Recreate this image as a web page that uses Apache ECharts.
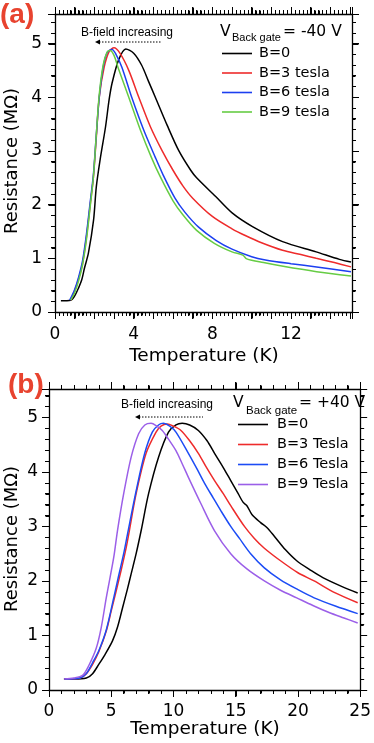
<!DOCTYPE html>
<html>
<head>
<meta charset="utf-8">
<script src="https://cdn.jsdelivr.net/npm/echarts@6/dist/echarts.min.js"></script>
<style>
html, body { margin: 0; padding: 0; background: #fff; }
#chart { width: 374px; height: 743px; }
</style>
</head>
<body>
<div id="chart"></div>
<script>
// panel (a): V back gate = -40 V   [temperature K, resistance MOhm]
let a_b0 = [[0.3,0.21],[0.8,0.22],[1.0,0.3],[1.2,0.45],[1.36,0.6],[1.5,0.82],[1.7,1.1],[1.96,1.71],[2.1,2.33],[2.3,2.85],[2.57,3.45],[2.75,3.95],[2.9,4.26],[3.24,4.7],[3.6,4.9],[4.0,4.82],[4.4,4.6],[4.75,4.3],[5.1,4.0],[5.7,3.48],[6.3,3.0],[6.9,2.64],[7.2,2.5],[8.17,2.15],[9.02,1.84],[10.04,1.59],[11.57,1.31],[13.28,1.12],[14.46,0.98],[15.05,0.93]];
let a_b3 = [[0.8,0.22],[1.0,0.4],[1.2,0.62],[1.4,0.9],[1.6,1.4],[1.8,2.03],[1.95,2.5],[2.1,3.25],[2.25,4.0],[2.5,4.56],[2.75,4.85],[3.0,4.92],[3.3,4.82],[3.75,4.5],[4.26,4.0],[4.85,3.45],[5.45,3.0],[6.0,2.64],[6.5,2.35],[7.0,2.12],[8.0,1.78],[9.0,1.55],[9.7,1.42],[10.5,1.29],[11.57,1.15],[12.5,1.07],[13.28,1.0],[14.2,0.92],[15.05,0.84]];
let a_b6 = [[0.75,0.22],[1.0,0.42],[1.2,0.65],[1.4,0.95],[1.6,1.45],[1.8,2.08],[1.95,2.55],[2.1,3.3],[2.25,4.0],[2.45,4.56],[2.65,4.83],[2.9,4.89],[3.1,4.8],[3.4,4.56],[3.9,4.0],[4.5,3.4],[5.1,2.88],[5.5,2.55],[6.1,2.12],[6.6,1.86],[7.3,1.58],[8.2,1.33],[9.0,1.17],[10.0,1.03],[10.7,0.97],[12.0,0.9],[13.3,0.84],[15.05,0.75]];
let a_b9 = [[0.8,0.22],[1.0,0.36],[1.2,0.58],[1.4,0.88],[1.6,1.35],[1.8,2.0],[1.95,2.5],[2.1,3.3],[2.25,4.05],[2.45,4.6],[2.65,4.84],[2.8,4.87],[3.0,4.78],[3.2,4.56],[3.75,4.0],[4.35,3.38],[4.9,2.88],[5.35,2.52],[6.0,2.07],[6.5,1.81],[7.2,1.52],[8.1,1.28],[9.0,1.12],[9.55,1.06],[9.75,0.99],[10.6,0.92],[11.6,0.85],[13.3,0.75],[15.05,0.67]];

// panel (b): V back gate = +40 V
let b_b0 = [[1.2,0.2],[2.0,0.2],[3.0,0.22],[3.5,0.3],[4.0,0.47],[4.5,0.65],[5.1,0.9],[5.5,1.15],[5.9,1.5],[6.3,1.85],[6.6,2.13],[7.0,2.5],[7.4,2.92],[8.0,3.6],[8.8,4.27],[9.6,4.73],[10.2,4.86],[10.7,4.89],[11.3,4.86],[12.0,4.76],[12.7,4.57],[13.3,4.34],[14.0,4.08],[14.6,3.84],[15.2,3.6],[15.6,3.44],[15.9,3.38],[16.3,3.22],[17.0,3.07],[17.5,2.98],[18.1,2.82],[19.0,2.57],[19.9,2.37],[21.0,2.2],[22.0,2.06],[23.5,1.9],[24.8,1.78]];
let b_b3 = [[1.4,0.2],[2.5,0.22],[3.0,0.3],[3.5,0.47],[4.0,0.7],[4.6,1.08],[5.0,1.45],[5.4,1.82],[5.8,2.2],[6.2,2.61],[6.4,2.85],[7.0,3.6],[7.8,4.34],[8.6,4.73],[9.0,4.84],[9.5,4.88],[10.0,4.84],[10.6,4.76],[11.3,4.57],[12.0,4.34],[12.6,4.1],[13.3,3.84],[14.0,3.6],[14.6,3.38],[15.7,3.0],[16.5,2.78],[17.3,2.6],[18.6,2.37],[20.0,2.15],[21.3,2.0],[23.0,1.78],[24.8,1.6]];
let b_b6 = [[1.3,0.2],[2.5,0.22],[3.0,0.3],[3.5,0.5],[4.0,0.72],[4.6,1.1],[5.2,1.69],[5.6,2.1],[6.0,2.5],[6.3,2.85],[7.0,3.65],[7.7,4.35],[8.3,4.73],[8.8,4.86],[9.2,4.89],[9.7,4.84],[10.2,4.73],[11.2,4.34],[11.9,4.05],[12.5,3.79],[13.2,3.52],[13.8,3.29],[14.6,3.0],[15.3,2.78],[16.2,2.5],[17.3,2.24],[18.6,2.02],[20.0,1.84],[21.3,1.69],[23.0,1.54],[24.8,1.4]];
let b_b9 = [[1.2,0.2],[2.0,0.22],[2.7,0.27],[3.2,0.45],[3.8,0.77],[4.2,1.15],[4.6,1.69],[5.2,2.43],[5.5,2.92],[6.0,3.6],[6.6,4.27],[7.2,4.7],[7.7,4.86],[8.2,4.89],[8.6,4.85],[9.1,4.76],[9.6,4.6],[10.2,4.39],[10.7,4.15],[11.2,3.9],[12.2,3.42],[13.3,2.92],[14.6,2.5],[15.9,2.22],[17.3,2.0],[18.6,1.83],[19.9,1.69],[21.2,1.55],[22.5,1.42],[23.7,1.32],[24.8,1.23]];

let namesA = ['B=0', 'B=3 tesla', 'B=6 tesla', 'B=9 tesla'];
let namesB = ['B=0', 'B=3 Tesla', 'B=6 Tesla', 'B=9 Tesla'];
let colorsA = ['#000000', '#ee2b2b', '#1c3ff0', '#66cc44'];
let colorsB = ['#000000', '#ee2b2b', '#1c4cf5', '#9b5fe8'];

// axis ranges and tick steps [min, max, major step, minor step]
let xRangeA = [0, 15.1, 1, 0.2];
let yRangeA = [0, 5.55, 1, 0.2];
let xRangeB = [0, 25, 5, 1];
let yRangeB = [0, 5.52, 1, 0.2];

const font = 'DejaVu Sans';
let chart = echarts.init(document.getElementById('chart'));

function mkAxis(grid, pos, r, label) {
  return {
    type: 'value',
    gridIndex: grid,
    position: pos,
    min: r[0],
    max: r[1],
    interval: r[2],
    axisLine: { show: true, onZero: false, lineStyle: { color: '#000', width: 1.3 } },
    axisTick: { show: true, length: 7, lineStyle: { color: '#000', width: 1 } },
    minorTick: { show: true, splitNumber: Math.round(r[2] / r[3]), length: 4, lineStyle: { color: '#000', width: 1 } },
    axisLabel: label || { show: false },
    splitLine: { show: false },
    minorSplitLine: { show: false }
  };
}

function lbl(margin, every) {
  return {
    show: true, fontFamily: font, fontSize: 17, color: '#000', margin: margin,
    formatter: function (v) {
      let r = Math.round(v);
      return (Math.abs(v - r) < 1e-6 && r % every === 0) ? String(r) : '';
    }
  };
}

// per grid: x = [bottom, top], y = [left, right]
let xAxes = [
  mkAxis(0, 'bottom', xRangeA, lbl(14, 4)),
  mkAxis(0, 'top', xRangeA),
  mkAxis(1, 'bottom', xRangeB, lbl(13, 5)),
  mkAxis(1, 'top', xRangeB)
];
let yAxes = [
  mkAxis(0, 'left', yRangeA, lbl(13, 1)),
  mkAxis(0, 'right', yRangeA),
  mkAxis(1, 'left', yRangeB, lbl(11, 1)),
  mkAxis(1, 'right', yRangeB)
];

function curve(name, data, color, gi) {
  return {
    name: name,
    type: 'line',
    data: data,
    xAxisIndex: gi * 2,
    yAxisIndex: gi * 2,
    symbol: 'none',
    smooth: 0.3,
    lineStyle: { color: color, width: 1.5 },
    itemStyle: { color: color },
    z: 5
  };
}

let series = [];
[a_b0, a_b3, a_b6, a_b9].forEach(function (d, i) { series.push(curve(namesA[i], d, colorsA[i], 0)); });
[b_b0, b_b3, b_b6, b_b9].forEach(function (d, i) { series.push(curve(namesB[i], d, colorsB[i], 1)); });

function legendAt(names, left, top, gap, pad) {
  return {
    data: names,
    orient: 'vertical',
    left: left,
    top: top,
    padding: 0,
    icon: 'rect',
    itemWidth: 30,
    itemHeight: 1.6,
    itemGap: gap,
    selectedMode: false,
    textStyle: { fontFamily: font, fontSize: 14.5, lineHeight: 14, color: '#000', padding: [0, 0, 0, pad] }
  };
}

function txt(s, x, y, f, color) {
  return {
    type: 'text', x: x, y: y,
    style: { text: s, font: f, fill: color || '#000', align: 'left', verticalAlign: 'middle' }
  };
}

function arrow(x1, x2, y) {
  return [
    { type: 'line', shape: { x1: x1 + 4, y1: y, x2: x2, y2: y }, style: { stroke: '#000', lineWidth: 1, lineDash: [1.5, 1.5] } },
    { type: 'polygon', shape: { points: [[x1, y], [x1 + 5, y - 2.5], [x1 + 5, y + 2.5]] }, style: { fill: '#000' } }
  ];
}

let graphics = [
  txt('(a)', 0, 15, 'bold 28px "Liberation Sans"', '#e8432f'),
  txt('(b)', 8, 385, 'bold 28px "Liberation Sans"', '#e8432f'),
  txt('V', 220, 32, '15.5px "DejaVu Sans"'),
  txt('Back gate', 232, 38, '11px "Liberation Sans"'),
  txt('= -40 V', 283, 32, '15.5px "DejaVu Sans"'),
  txt('V', 233, 403, '15.5px "DejaVu Sans"'),
  txt('Back gate', 246, 411, '11.5px "Liberation Sans"'),
  txt('= +40 V', 299, 403, '15.5px "DejaVu Sans"'),
  txt('B-field increasing', 81, 33, '12px "Liberation Sans"'),
  txt('B-field increasing', 121, 405, '12px "Liberation Sans"'),
  {
    type: 'text', x: 12, y: 161, rotation: Math.PI / 2,
    style: { text: 'Resistance (M\u03A9)', font: '18px "DejaVu Sans"', fill: '#000', align: 'center', verticalAlign: 'middle' }
  },
  {
    type: 'text', x: 12, y: 539, rotation: Math.PI / 2,
    style: { text: 'Resistance (M\u03A9)', font: '18px "DejaVu Sans"', fill: '#000', align: 'center', verticalAlign: 'middle' }
  },
  {
    type: 'text', x: 204, y: 356,
    style: { text: 'Temperature (K)', font: '18.5px "DejaVu Sans"', fill: '#000', align: 'center', verticalAlign: 'middle' }
  },
  {
    type: 'text', x: 205, y: 729,
    style: { text: 'Temperature (K)', font: '18.5px "DejaVu Sans"', fill: '#000', align: 'center', verticalAlign: 'middle' }
  }
].concat(arrow(95, 162, 42)).concat(arrow(135, 203, 417));

let option = {
  animation: false,
  backgroundColor: '#fff',
  grid: [
    { left: 55, top: 14, width: 297, height: 298 },
    { left: 49, top: 389, width: 314, height: 301 }
  ],
  xAxis: xAxes,
  yAxis: yAxes,
  legend: [
    legendAt(namesA, 222, 46, 4.5, 2),
    legendAt(namesB, 238, 417, 5, 4)
  ],
  series: series
};

option && chart.setOption(option);

// tick comb on all four sides of each frame, positioned through the grid's scales
function isMajor(v, step) {
  return Math.abs(v / step - Math.round(v / step)) < 1e-6;
}
function tickMarks(gi, xr, yr) {
  let out = [];
  let st = { stroke: '#000', lineWidth: 1 };
  let i, v, len, p0, p1;
  for (i = 0; xr[0] + i * xr[3] <= xr[1] + 1e-9; i++) {
    v = +(xr[0] + i * xr[3]).toFixed(4);
    len = isMajor(v, xr[2]) ? 6.5 : 3.5;
    p0 = chart.convertToPixel({ gridIndex: gi }, [v, yr[0]]);
    p1 = chart.convertToPixel({ gridIndex: gi }, [v, yr[1]]);
    let x = Math.round(p0[0]) + 0.5;
    out.push({ type: 'line', z: 50, shape: { x1: x, y1: p0[1], x2: x, y2: p0[1] + len }, style: st });
    out.push({ type: 'line', z: 50, shape: { x1: x, y1: p1[1], x2: x, y2: p1[1] - len }, style: st });
  }
  for (i = 0; yr[0] + i * yr[3] <= yr[1] + 1e-9; i++) {
    v = +(yr[0] + i * yr[3]).toFixed(4);
    len = isMajor(v, yr[2]) ? 6.5 : 3.5;
    p0 = chart.convertToPixel({ gridIndex: gi }, [xr[0], v]);
    p1 = chart.convertToPixel({ gridIndex: gi }, [xr[1], v]);
    let y = Math.round(p0[1]) + 0.5;
    out.push({ type: 'line', z: 50, shape: { x1: p0[0], y1: y, x2: p0[0] - len, y2: y }, style: st });
    out.push({ type: 'line', z: 50, shape: { x1: p1[0], y1: y, x2: p1[0] + len, y2: y }, style: st });
  }
  return out;
}

graphics = graphics.concat(tickMarks(0, xRangeA, yRangeA)).concat(tickMarks(1, xRangeB, yRangeB));
chart.setOption({ graphic: graphics });
</script>
</body>
</html>
